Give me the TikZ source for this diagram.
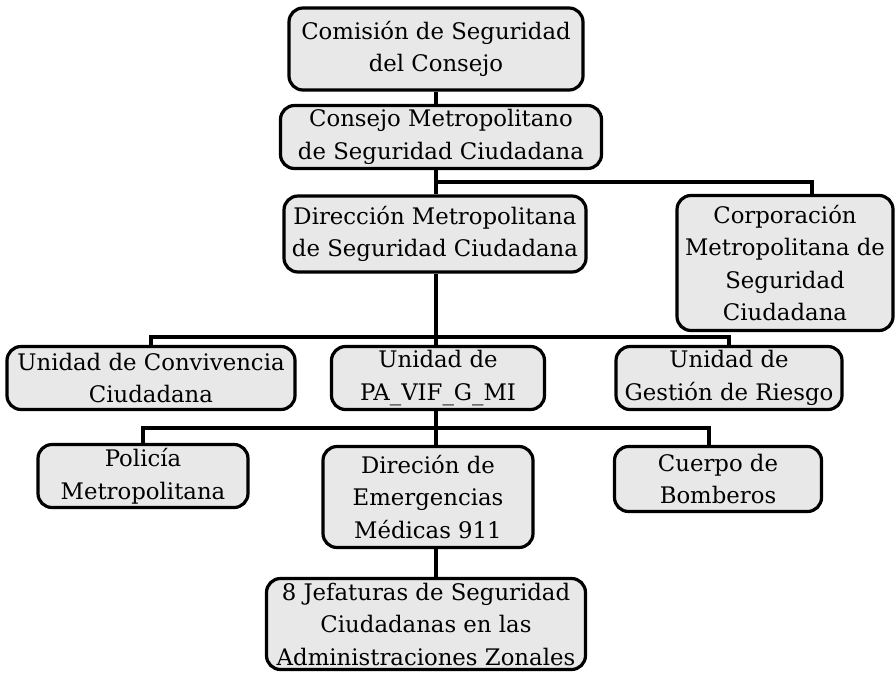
\documentclass[tikz,border=0pt]{standalone}
\usepackage{fontspec}
\setmainfont{DejaVu Serif}
\usepackage{xcolor}
\usepackage{tikz}
\usetikzlibrary{positioning}

\begin{document}
\begin{tikzpicture}[x=1pt, y=-1pt, line width=3.2pt,
  unit/.style={draw, rounded corners=14pt, fill=black!9, align=center, inner sep=1pt, font=\fontsize{22.8}{32.5}\selectfont}]
\useasboundingbox (0,0) rectangle (896,672);
\node[unit, minimum width=294pt, minimum height=82pt] (com) at (436,49) {Comisión de Seguridad\\del Consejo};
\node[unit, minimum width=321pt, minimum height=63pt] (cms) at (441,137) {Consejo Metropolitano\\de Seguridad Ciudadana};
\node[unit, minimum width=302pt, minimum height=76pt] (dmsc) at (435,234) {Dirección Metropolitana\\de Seguridad Ciudadana};
\node[unit, minimum width=216pt, minimum height=135pt] (corp) at (785,263) {Corporación\\Metropolitana de\\Seguridad\\Ciudadana};
\node[unit, minimum width=288pt, minimum height=63pt] (ucc) at (151,378) {Unidad de Convivencia\\Ciudadana};
\node[unit, minimum width=213pt, minimum height=63pt] (upa) at (438,378) {Unidad de\\PA\_VIF\_G\_MI};
\node[unit, minimum width=226pt, minimum height=63pt] (ugr) at (729,378) {Unidad de\\Gestión de Riesgo};
\node[unit, minimum width=210pt, minimum height=63pt] (pol) at (143,476) {Policía\\Metropolitana};
\node[unit, minimum width=210pt, minimum height=101pt] (dem) at (428,497) {Direción de\\Emergencias\\Médicas 911};
\node[unit, minimum width=207pt, minimum height=65pt] (cbo) at (718,479) {Cuerpo de\\Bomberos};
\node[unit, minimum width=319pt, minimum height=91pt] (jef) at (426,624) {8 Jefaturas de Seguridad\\Ciudadanas en las\\Administraciones Zonales};

% junctions
\coordinate (b1) at (436,182);
\coordinate (b2) at (436,337);
\coordinate (b3) at (436,428);

\draw (com.south -| b1) -- (cms.north -| b1);
\draw (cms.south -| b1) -- (dmsc.north -| b1);
\draw (b1) -| ([xshift=27pt]corp.north);
\draw (dmsc.south -| b2) -- (b2);
\draw (ucc.north) |- (b2) -| (ugr.north);
\draw (b2) -- (upa.north -| b2);
\draw (upa.south -| b3) -- (b3);
\draw (pol.north) |- (b3) -| ([xshift=-9pt]cbo.north);
\draw (b3) -- (dem.north -| b3);
\draw (dem.south -| b3) -- (jef.north -| b3);
\end{tikzpicture}
\end{document}
